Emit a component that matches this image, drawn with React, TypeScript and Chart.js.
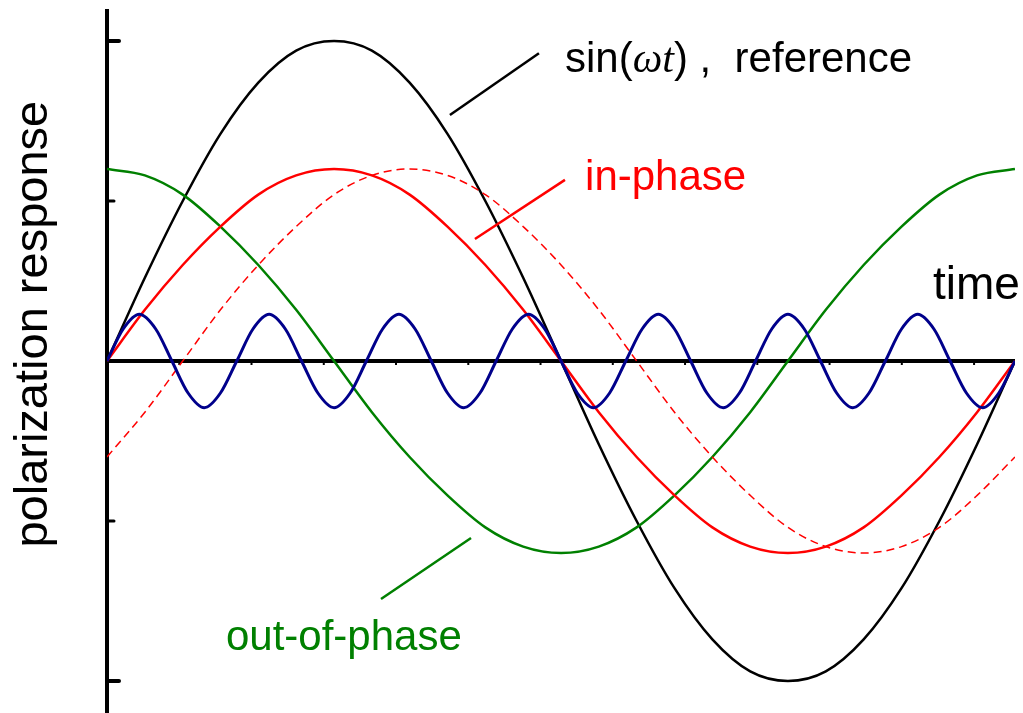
import React, { useEffect, useRef } from 'react';
import { Chart, registerables } from 'chart.js';

Chart.register(...registerables);

// Time axis (radians, one full period of the reference drive)
const X_MAX = 6.2832;
const Y_LIMIT = 1.1;

// Sample times for the slow curves (every 15 degrees)
const time = [
  0, 0.262, 0.524, 0.785, 1.047, 1.309, 1.571, 1.833, 2.094, 2.356, 2.618, 2.88, 3.142,
  3.403, 3.665, 3.927, 4.189, 4.451, 4.712, 4.974, 5.236, 5.498, 5.76, 6.021, 6.283,
];

// Reference drive sin(wt)
const reference = [
  0, 0.26, 0.5, 0.71, 0.87, 0.97, 1, 0.97, 0.87, 0.71, 0.5, 0.26, 0,
  -0.26, -0.5, -0.71, -0.87, -0.97, -1, -0.97, -0.87, -0.71, -0.5, -0.26, 0,
];

// In-phase response component
const inPhase = [
  0, 0.16, 0.3, 0.42, 0.52, 0.58, 0.6, 0.58, 0.52, 0.42, 0.3, 0.16, 0,
  -0.16, -0.3, -0.42, -0.52, -0.58, -0.6, -0.58, -0.52, -0.42, -0.3, -0.16, 0,
];

// Out-of-phase response component
const outOfPhase = [
  0.6, 0.58, 0.52, 0.42, 0.3, 0.16, 0, -0.16, -0.3, -0.42, -0.52, -0.58, -0.6,
  -0.58, -0.52, -0.42, -0.3, -0.16, 0, 0.16, 0.3, 0.42, 0.52, 0.58, 0.6,
];

// Total (lagging) response
const lagging = [
  -0.3, -0.16, 0, 0.16, 0.3, 0.42, 0.52, 0.58, 0.6, 0.58, 0.52, 0.42, 0.3,
  0.16, 0, -0.16, -0.3, -0.42, -0.52, -0.58, -0.6, -0.58, -0.52, -0.42, -0.3,
];

// Sample times for the fast oscillation
const fastTime = [
  0, 0.112, 0.224, 0.337, 0.449, 0.561, 0.673, 0.785, 0.898, 1.01, 1.122, 1.234, 1.346,
  1.459, 1.571, 1.683, 1.795, 1.907, 2.02, 2.132, 2.244, 2.356, 2.468, 2.581, 2.693,
  2.805, 2.917, 3.029, 3.142, 3.254, 3.366, 3.478, 3.59, 3.703, 3.815, 3.927, 4.039,
  4.151, 4.264, 4.376, 4.488, 4.6, 4.712, 4.825, 4.937, 5.049, 5.161, 5.273, 5.386,
  5.498, 5.61, 5.722, 5.834, 5.947, 6.059, 6.171, 6.283,
];

// Fast oscillation
const fast = [
  0, 0.1, 0.146, 0.1, 0, -0.1, -0.146, -0.1,
  0, 0.1, 0.146, 0.1, 0, -0.1, -0.146, -0.1,
  0, 0.1, 0.146, 0.1, 0, -0.1, -0.146, -0.1,
  0, 0.1, 0.146, 0.1, 0, -0.1, -0.146, -0.1,
  0, 0.1, 0.146, 0.1, 0, -0.1, -0.146, -0.1,
  0, 0.1, 0.146, 0.1, 0, -0.1, -0.146, -0.1,
  0, 0.1, 0.146, 0.1, 0, -0.1, -0.146, -0.1,
  0,
];

// Axis ticks
const yMajorTicks = [1, -1];
const yMinorTicks = [0.5, -0.5];
const xMinorTicks = [0.5, 1, 1.5, 2, 2.5, 3, 3.5, 4, 4.5, 5, 5.5, 6];

const SANS = '"Liberation Sans", Arial, Helvetica, sans-serif';
const SERIF = '"Liberation Serif", "Times New Roman", serif';

// Leader lines from labels to curves (data coordinates)
const leaders = [
  { from: [2.373, 0.769], to: [2.989, 0.962], color: '#000000' },
  { from: [2.546, 0.381], to: [3.169, 0.566], color: '#ff0000' },
  { from: [1.896, -0.744], to: [2.519, -0.553], color: '#008000' },
];

const toPoints = (xs: number[], ys: number[]) => xs.map((x, i) => ({ x, y: ys[i] }));

const crossAxes = {
  id: 'crossAxes',
  beforeDatasetsDraw(chart: any) {
    const { ctx, chartArea } = chart;
    const xs = chart.scales.x;
    const ys = chart.scales.y;
    const x0 = xs.getPixelForValue(0);
    const xEnd = xs.getPixelForValue(X_MAX);
    const y0 = ys.getPixelForValue(0);
    ctx.save();
    ctx.strokeStyle = '#000';
    ctx.lineCap = 'butt';

    ctx.lineWidth = 4;
    ctx.beginPath();
    ctx.moveTo(x0, chartArea.top);
    ctx.lineTo(x0, chart.height);
    ctx.stroke();

    ctx.lineCap = 'round';
    for (const v of yMajorTicks) {
      const py = ys.getPixelForValue(v);
      ctx.beginPath();
      ctx.moveTo(x0, py);
      ctx.lineTo(x0 + 12, py);
      ctx.stroke();
    }
    ctx.lineWidth = 3;
    for (const v of yMinorTicks) {
      const py = ys.getPixelForValue(v);
      ctx.beginPath();
      ctx.moveTo(x0, py);
      ctx.lineTo(x0 + 7, py);
      ctx.stroke();
    }

    ctx.lineCap = 'butt';
    ctx.lineWidth = 4;
    ctx.beginPath();
    ctx.moveTo(x0, y0);
    ctx.lineTo(xEnd, y0);
    ctx.stroke();

    ctx.lineWidth = 2;
    for (const v of xMinorTicks) {
      const px = xs.getPixelForValue(v);
      ctx.beginPath();
      ctx.moveTo(px, y0 + 1);
      ctx.lineTo(px, y0 + 4);
      ctx.stroke();
    }
    ctx.restore();
  },
};

const labelsPlugin = {
  id: 'curveLabels',
  afterDatasetsDraw(chart: any) {
    const { ctx, chartArea } = chart;
    const xs = chart.scales.x;
    const ys = chart.scales.y;
    const px = (v: number) => xs.getPixelForValue(v);
    const py = (v: number) => ys.getPixelForValue(v);
    ctx.save();

    ctx.lineWidth = 2.5;
    ctx.lineCap = 'butt';
    for (const l of leaders) {
      ctx.strokeStyle = l.color;
      ctx.beginPath();
      ctx.moveTo(px(l.from[0]), py(l.from[1]));
      ctx.lineTo(px(l.to[0]), py(l.to[1]));
      ctx.stroke();
    }

    ctx.textBaseline = 'alphabetic';
    ctx.textAlign = 'left';

    // sin(ωt) ,  reference
    const parts = [
      { t: 'sin(', f: `42px ${SANS}` },
      { t: 'ωt', f: `italic 42px ${SERIF}` },
      { t: ') ,  reference', f: `42px ${SANS}` },
    ];
    let cx = px(3.169);
    const by = py(0.903);
    ctx.fillStyle = '#000';
    for (const p of parts) {
      ctx.font = p.f;
      ctx.fillText(p.t, cx, by);
      cx += ctx.measureText(p.t).width;
    }

    ctx.font = `42px ${SANS}`;
    ctx.fillStyle = '#ff0000';
    ctx.fillText('in-phase', px(3.308), py(0.534));

    ctx.fillStyle = '#008000';
    ctx.fillText('out-of-phase', px(0.823), py(-0.903));

    ctx.fillStyle = '#000';
    ctx.font = `46px ${SANS}`;
    ctx.fillText('time', px(5.716), py(0.194));

    // vertical axis title
    ctx.font = `47px ${SANS}`;
    ctx.textAlign = 'center';
    ctx.translate(chartArea.left - 60, py(0.115));
    ctx.rotate(-Math.PI / 2);
    ctx.fillText('polarization response', 0, 0);

    ctx.restore();
  },
};

export default function App() {
  const canvasRef = useRef<HTMLCanvasElement | null>(null);

  useEffect(() => {
    const canvas = canvasRef.current;
    if (!canvas) return;
    const line = { pointRadius: 0, fill: false, cubicInterpolationMode: 'monotone' as const };
    const chart = new Chart(canvas, {
      type: 'line',
      data: {
        datasets: [
          { ...line, label: 'fast', data: toPoints(fastTime, fast), borderColor: '#00008b', borderWidth: 3 },
          { ...line, label: 'in-phase', data: toPoints(time, inPhase), borderColor: '#ff0000', borderWidth: 2.5 },
          { ...line, label: 'response', data: toPoints(time, lagging), borderColor: '#ff0000', borderWidth: 1.5, borderDash: [8, 5] },
          { ...line, label: 'out-of-phase', data: toPoints(time, outOfPhase), borderColor: '#008000', borderWidth: 2.5 },
          { ...line, label: 'reference', data: toPoints(time, reference), borderColor: '#000000', borderWidth: 2.5 },
        ],
      },
      options: {
        animation: false,
        responsive: false,
        devicePixelRatio: 1,
        layout: { padding: { left: 107, right: 8, top: 9, bottom: 0 } },
        plugins: { legend: { display: false }, tooltip: { enabled: false } },
        events: [],
        scales: {
          x: { type: 'linear', min: 0, max: X_MAX, display: false },
          y: { type: 'linear', min: -Y_LIMIT, max: Y_LIMIT, display: false },
        },
      },
      plugins: [crossAxes, labelsPlugin],
    });
    return () => chart.destroy();
  }, []);

  return (
    <div style={{ position: 'fixed', left: 0, top: 0, width: 1023, height: 713, background: '#ffffff' }}>
      <canvas ref={canvasRef} width={1023} height={713} style={{ display: 'block' }} />
    </div>
  );
}
